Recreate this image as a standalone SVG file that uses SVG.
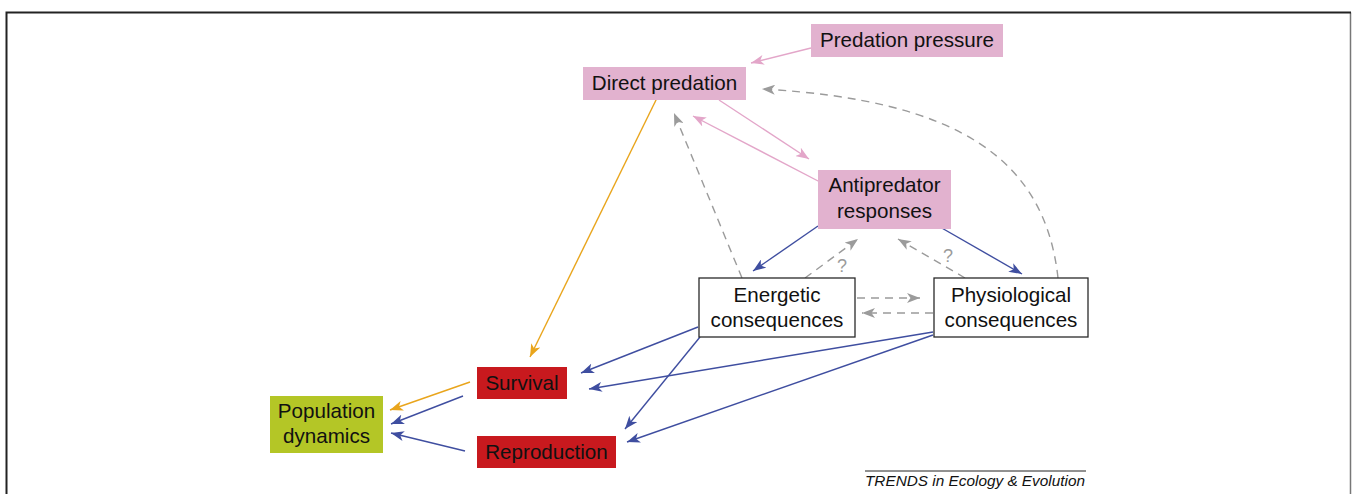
<svg xmlns="http://www.w3.org/2000/svg" width="1356" height="494" viewBox="0 0 1356 494">
<style>
text{font-family:"Liberation Sans",Arial,sans-serif;font-size:20.6px;fill:#111;text-anchor:middle}
.pink{fill:#e2b2cf}
.red{fill:#c8191e}
.lime{fill:#b4c626}
.white{fill:#fff;stroke:#2a2a2a;stroke-width:1.3}
.c{fill:none;stroke-width:1.4}
.cp{stroke:#e3a6c9}
.cb{stroke:#3f4ea0}
.co{stroke:#e9a51c}
.cg{stroke:#9b9b9b;stroke-dasharray:8 6}
.q{fill:#9b9b9b;font-size:18px}
</style>
<defs>
<marker id="ap" markerUnits="userSpaceOnUse" markerWidth="14" markerHeight="10" refX="13" refY="5" orient="auto"><path d="M0,0 L13,5 L0,10 L3.5,5 z" fill="#e3a6c9"/></marker>
<marker id="ab" markerUnits="userSpaceOnUse" markerWidth="14" markerHeight="10" refX="13" refY="5" orient="auto"><path d="M0,0 L13,5 L0,10 L3.5,5 z" fill="#3f4ea0"/></marker>
<marker id="ao" markerUnits="userSpaceOnUse" markerWidth="14" markerHeight="10" refX="13" refY="5" orient="auto"><path d="M0,0 L13,5 L0,10 L3.5,5 z" fill="#e9a51c"/></marker>
<marker id="ag" markerUnits="userSpaceOnUse" markerWidth="14" markerHeight="10" refX="13" refY="5" orient="auto"><path d="M0,0 L13,5 L0,10 L3.5,5 z" fill="#9b9b9b"/></marker>
</defs>
<rect x="0" y="0" width="1356" height="494" fill="#fff"/>
<path d="M1350.5,12.5 V500" fill="none" stroke="#777" stroke-width="1.5"/>
<path d="M6.5,500 V12.5 H1351" fill="none" stroke="#222" stroke-width="2"/>

<g id="connectors">
<line class="c cp" x1="811" y1="48" x2="751" y2="63" marker-end="url(#ap)"/>
<line class="c cp" x1="719" y1="100" x2="809" y2="159" marker-end="url(#ap)"/>
<line class="c cp" x1="820" y1="182" x2="693" y2="116" marker-end="url(#ap)"/>
<line class="c cg" x1="742" y1="278" x2="674" y2="113" marker-end="url(#ag)"/>
<path class="c cg" d="M1058,278 C1045,160 960,100 762,89" marker-end="url(#ag)"/>
<line class="c cb" x1="818" y1="226" x2="753" y2="271" marker-end="url(#ab)"/>
<line class="c cb" x1="940" y1="227" x2="1022" y2="274" marker-end="url(#ab)"/>
<line class="c cg" x1="805" y1="278" x2="858" y2="239" marker-end="url(#ag)"/>
<line class="c cg" x1="965" y1="278" x2="898" y2="239" marker-end="url(#ag)"/>
<line class="c cg" x1="857" y1="298" x2="920" y2="298" marker-end="url(#ag)"/>
<line class="c cg" x1="933" y1="313" x2="862" y2="313" marker-end="url(#ag)"/>
<line class="c cb" x1="698" y1="327" x2="581" y2="373" marker-end="url(#ab)"/>
<line class="c cb" x1="933" y1="332" x2="589" y2="389" marker-end="url(#ab)"/>
<line class="c cb" x1="700" y1="337" x2="625" y2="429" marker-end="url(#ab)"/>
<line class="c cb" x1="933" y1="335" x2="627" y2="442" marker-end="url(#ab)"/>
<line class="c co" x1="657" y1="98" x2="530" y2="357" marker-end="url(#ao)"/>
<line class="c co" x1="470" y1="382" x2="390" y2="410" marker-end="url(#ao)"/>
<line class="c cb" x1="463" y1="396" x2="391" y2="424" marker-end="url(#ab)"/>
<line class="c cb" x1="465" y1="451" x2="391" y2="433" marker-end="url(#ab)"/>
<text class="q" x="842" y="272">?</text>
<text class="q" x="948" y="262">?</text>
</g>

<g id="predation-pressure"><rect class="pink" x="811" y="24" width="192" height="33"/><text x="907" y="47">Predation pressure</text></g>
<g id="direct-predation"><rect class="pink" x="583" y="67" width="163" height="33"/><text x="664.5" y="90">Direct predation</text></g>
<g id="antipredator-responses"><rect class="pink" x="818" y="170" width="133" height="59"/><text x="884.5" y="192">Antipredator</text><text x="884.5" y="218">responses</text></g>
<g id="energetic-consequences"><rect class="white" x="699" y="278" width="156" height="59"/><text x="777" y="302">Energetic</text><text x="777" y="327">consequences</text></g>
<g id="physiological-consequences"><rect class="white" x="934" y="278" width="154" height="59"/><text x="1011" y="302">Physiological</text><text x="1011" y="327">consequences</text></g>
<g id="survival"><rect class="red" x="477" y="367" width="90" height="32"/><text x="522" y="390">Survival</text></g>
<g id="reproduction"><rect class="red" x="477" y="436" width="139" height="32"/><text x="546.5" y="459">Reproduction</text></g>
<g id="population-dynamics"><rect class="lime" x="270" y="396" width="113" height="57"/><text x="326.5" y="418">Population</text><text x="326.5" y="443">dynamics</text></g>

<g id="footer">
<line x1="865" y1="471" x2="1086" y2="471" stroke="#222" stroke-width="1"/>
<text x="865" y="486" style="text-anchor:start;font-style:italic;font-size:14px" textLength="220" lengthAdjust="spacingAndGlyphs">TRENDS in Ecology &amp; Evolution</text>
</g>
</svg>
